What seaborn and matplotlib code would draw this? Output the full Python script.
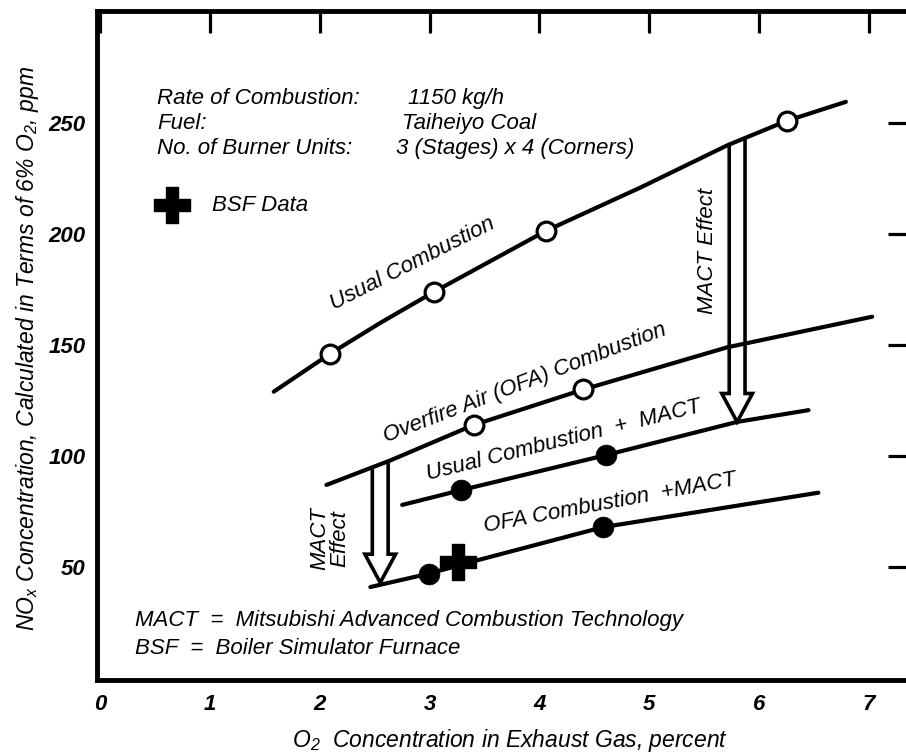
import numpy as np
import pandas as pd
import matplotlib
matplotlib.use("Agg")
import matplotlib.pyplot as plt
import seaborn as sns

# ---------------- data ----------------
# traced curve paths (O2 percent, NOx ppm)
usual_x = [1.58, 2.09, 2.55, 3.04, 4.06, 4.92, 5.71, 6.25, 6.79]
usual_y = [129.0, 146.0, 160.0, 174.0, 201.5, 221.0, 240.0, 251.0, 259.6]
usual_pts_x = [2.09, 3.04, 4.06, 6.25]
usual_pts_y = [146.0, 174.0, 201.5, 251.0]

ofa_x = [2.06, 2.64, 3.40, 4.40, 5.71, 7.03]
ofa_y = [87.0, 98.0, 114.0, 130.0, 149.0, 162.8]
ofa_pts_x = [3.40, 4.40]
ofa_pts_y = [114.0, 130.0]

umact_x = [2.75, 3.29, 4.61, 5.80, 6.45]
umact_y = [78.0, 84.7, 100.5, 115.4, 120.7]
umact_pts_x = [3.29, 4.61]
umact_pts_y = [84.7, 100.5]

omact_x = [2.46, 2.99, 3.43, 4.58, 6.54]
omact_y = [41.0, 47.0, 53.0, 68.0, 83.5]
omact_pts_x = [2.99, 4.58]
omact_pts_y = [47.0, 68.0]

bsf_x = [3.26]
bsf_y = [52.4]

x_ticks = [0, 1, 2, 3, 4, 5, 6, 7]
y_ticks = [50, 100, 150, 200, 250]

# MACT effect arrows: (x centre, tip y)
arrow_right = (5.80, 115.4)
arrow_left = (2.55, 43.0)

# ---------------- style ----------------
sns.set_theme(style="white")
plt.rcParams["font.family"] = ["Liberation Sans", "DejaVu Sans"]
plt.rcParams["font.style"] = "italic"
plt.rcParams["text.color"] = "black"
plt.rcParams["axes.labelcolor"] = "black"
plt.rcParams["xtick.color"] = "black"
plt.rcParams["ytick.color"] = "black"
plt.rcParams["mathtext.fontset"] = "custom"
plt.rcParams["mathtext.rm"] = "Liberation Sans:italic"
plt.rcParams["mathtext.it"] = "Liberation Sans:italic"
plt.rcParams["mathtext.bf"] = "Liberation Sans:italic:bold"

FS = 16

fig = plt.figure(figsize=(9.06, 7.53), dpi=100)
ax = fig.add_axes([0.1071, 0.0969, 0.8974, 0.8884])
ax.set_xlim(-0.029, 7.375)
ax.set_ylim(-0.9, 300.5)

LW = 3.0


def curve(xs, ys):
    sns.lineplot(x=xs, y=ys, sort=False, estimator=None, color="black",
                 linewidth=LW, ax=ax, zorder=2)
    ax.lines[-1].set_solid_capstyle("round")


curve(usual_x, usual_y)
curve(ofa_x, ofa_y)
curve(umact_x, umact_y)
curve(omact_x, omact_y)


def hollow_arrow(xc, top_x, top_y, y_tip, hw=0.072, hhw=0.14, hl=12.8):
    xl, xr = xc - hw, xc + hw
    yl = np.interp(xl, top_x, top_y)
    yr = np.interp(xr, top_x, top_y)
    yh = y_tip + hl
    xs = [xl, xl, xc - hhw, xc, xc + hhw, xr, xr]
    ys = [yl, yh, yh, y_tip, yh, yh, yr]
    ax.fill(xs, ys, color="white", zorder=1.5)
    ax.plot(xs, ys, color="black", lw=2.6, zorder=1.6,
            solid_joinstyle="miter")


hollow_arrow(arrow_right[0], usual_x, usual_y, arrow_right[1])
hollow_arrow(arrow_left[0], ofa_x, ofa_y, arrow_left[1])

# markers
sns.scatterplot(x=usual_pts_x + ofa_pts_x, y=usual_pts_y + ofa_pts_y,
                marker="o", s=13.5 ** 2, color="white", edgecolor="black",
                linewidth=2.3, zorder=3, ax=ax)
sns.scatterplot(x=umact_pts_x + omact_pts_x, y=umact_pts_y + omact_pts_y,
                marker="o", s=15 ** 2, color="black", edgecolor="black",
                linewidth=0.5, zorder=3, ax=ax)
sns.scatterplot(x=bsf_x, y=bsf_y, marker="P", s=25.5 ** 2, color="black",
                edgecolor="black", linewidth=1, zorder=4, ax=ax)
# legend symbol
sns.scatterplot(x=[0.656], y=[213], marker="P", s=25.5 ** 2, color="black",
                edgecolor="black", linewidth=1, zorder=4, ax=ax)
ax.text(1.02, 213, "BSF Data", fontsize=FS, ha="left", va="center")

# info block
info_left = ["Rate of Combustion:", "Fuel:", "No. of Burner Units:"]
info_right = ["1150 kg/h", "Taiheiyo Coal", "3 (Stages) x 4 (Corners)"]
info_y = [261.3, 250.0, 238.7]
info_rx = [2.80, 2.75, 2.69]
for t, r, yy, rx in zip(info_left, info_right, info_y, info_rx):
    ax.text(0.52, yy, t, fontsize=FS, ha="left", va="center")
    ax.text(rx, yy, r, fontsize=FS, ha="left", va="center")

# curve labels
ax.text(2.84, 186.5, "Usual Combustion", fontsize=FS, rotation=27,
        rotation_mode="anchor", ha="center", va="center")
ax.text(3.87, 133, "Overfire Air (OFA) Combustion", fontsize=FS, rotation=21,
        rotation_mode="anchor", ha="center", va="center")
ax.text(4.22, 106.8, "Usual Combustion  +  MACT", fontsize=FS, rotation=14,
        rotation_mode="anchor", ha="center", va="center")
ax.text(4.64, 78.8, "OFA Combustion  +MACT", fontsize=FS, rotation=10.6,
        rotation_mode="anchor", ha="center", va="center")

ax.text(5.53, 192.5, "MACT Effect", fontsize=FS, rotation=90,
        ha="center", va="center")
ax.text(2.09, 63, "MACT\nEffect", fontsize=FS, rotation=90,
        ha="center", va="center", linespacing=0.95, multialignment="center")

ax.text(0.32, 26, "MACT  =  Mitsubishi Advanced Combustion Technology",
        fontsize=FS, ha="left", va="center")
ax.text(0.32, 13.5, "BSF  =  Boiler Simulator Furnace",
        fontsize=FS, ha="left", va="center")

# axes
ax.set_xticks(x_ticks)
ax.set_xticklabels([str(v) for v in x_ticks])
ax.set_yticks(y_ticks)
ax.set_yticklabels([str(v) for v in y_ticks])
ax.tick_params(direction="in", length=15.5, width=2.3, top=True, right=True,
               labelsize=FS, colors="black")
ax.tick_params(axis="x", pad=10)
ax.tick_params(axis="y", pad=8)
for lab in ax.get_xticklabels() + ax.get_yticklabels():
    lab.set_fontweight("bold")
    lab.set_fontstyle("italic")

for sp in ax.spines.values():
    sp.set_linewidth(3.5)
    sp.set_color("black")

ax.set_xlabel(r"O$_2$  Concentration in Exhaust Gas, percent", fontsize=16.5)
ax.set_ylabel(r"NO$_x$ Concentration, Calculated in Terms of 6% O$_2$, ppm",
              fontsize=16.5)
ax.xaxis.set_label_coords(0.508, -0.09)
ax.xaxis.label.set_va("center")
ax.yaxis.set_label_coords(-0.085, 0.495)
ax.yaxis.label.set_va("center")
ax.grid(False)

fig.savefig("out.png", dpi=100)
